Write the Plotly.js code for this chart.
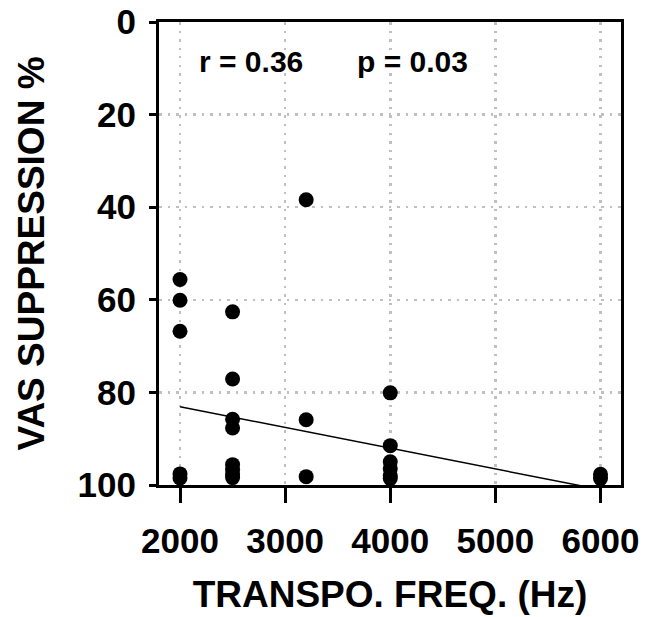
<!DOCTYPE html>
<html>
<head>
<meta charset="utf-8">
<script src="https://cdn.plot.ly/plotly-3.0.1.min.js"></script>
<style>html,body{margin:0;padding:0;background:#fff;}#chart{width:652px;height:617px;}</style>
</head>
<body>
<div id="chart"></div>
<script>
// Transposition frequency (Hz) per patient
var freqHz = [2000, 2000, 2000, 2000, 2000,
              2500, 2500, 2500, 2500, 2500, 2500, 2500, 2500,
              3200, 3200, 3200,
              4000, 4000, 4000, 4000, 4000, 4000,
              6000, 6000];
// VAS suppression (%)
var vasSuppression = [55.6, 60.1, 66.8, 97.6, 98.5,
                      62.6, 77.1, 85.8, 87.7, 95.6, 96.6, 97.6, 98.4,
                      38.4, 85.9, 98.2,
                      80.1, 91.5, 95.0, 96.5, 98.0, 98.6,
                      97.7, 98.6];
// Linear trend line end points
var trendX = [2000, 6000];
var trendY = [83.1, 101.0];
// Tick values
var xTicks = [2000, 3000, 4000, 5000, 6000];
var yTicks = [0, 20, 40, 60, 80, 100];
var statLabels = ["r = 0.36", "p = 0.03"];

var boldFont = {family: "Arial, 'Liberation Sans', sans-serif", weight: "bold", color: "#000"};
function f(size) { return Object.assign({}, boldFont, {size: size}); }

var traces = [
  {x: trendX, y: trendY, type: "scatter", mode: "lines",
   line: {color: "#000", width: 1.5}, hoverinfo: "skip", showlegend: false},
  {x: freqHz, y: vasSuppression, type: "scatter", mode: "markers",
   marker: {color: "#000", size: 15, line: {width: 0}}, showlegend: false}
];

var layout = {
  width: 652, height: 617,
  margin: {l: 159, r: 31, t: 22, b: 132},
  paper_bgcolor: "#fff", plot_bgcolor: "#fff",
  showlegend: false,
  xaxis: {
    range: [1800, 6195], tickvals: xTicks, ticktext: xTicks.map(String),
    showline: true, linecolor: "#000", linewidth: 3, mirror: true,
    ticks: "outside", ticklen: 15, tickwidth: 3, tickcolor: "#000",
    tickfont: f(35), ticklabelstandoff: 8,
    showgrid: true, gridcolor: "#c0c0c0", gridwidth: 2.5, griddash: "2.5px,6px",
    zeroline: false, automargin: false,
    title: {text: "TRANSPO. FREQ. (Hz)", font: f(37), standoff: 23}
  },
  yaxis: {
    range: [100, 0], tickvals: yTicks, ticktext: yTicks.map(String),
    showline: true, linecolor: "#000", linewidth: 3, mirror: true,
    ticks: "outside", ticklen: 7, tickwidth: 3, tickcolor: "#000",
    tickfont: f(35), ticklabelstandoff: 6,
    showgrid: true, gridcolor: "#c0c0c0", gridwidth: 2.5, griddash: "2.5px,6px",
    zeroline: false, automargin: false,
    title: {text: "VAS SUPPRESSION %", font: f(37), standoff: 22}
  },
  annotations: [
    {text: statLabels[0], x: 2160, y: 8.5, xref: "x", yref: "y",
     xanchor: "left", yanchor: "middle", showarrow: false, font: f(30)},
    {text: statLabels[1], x: 3660, y: 8.5, xref: "x", yref: "y",
     xanchor: "left", yanchor: "middle", showarrow: false, font: f(30)}
  ]
};

Plotly.newPlot("chart", traces, layout, {displayModeBar: false, staticPlot: true});
</script>
</body>
</html>
